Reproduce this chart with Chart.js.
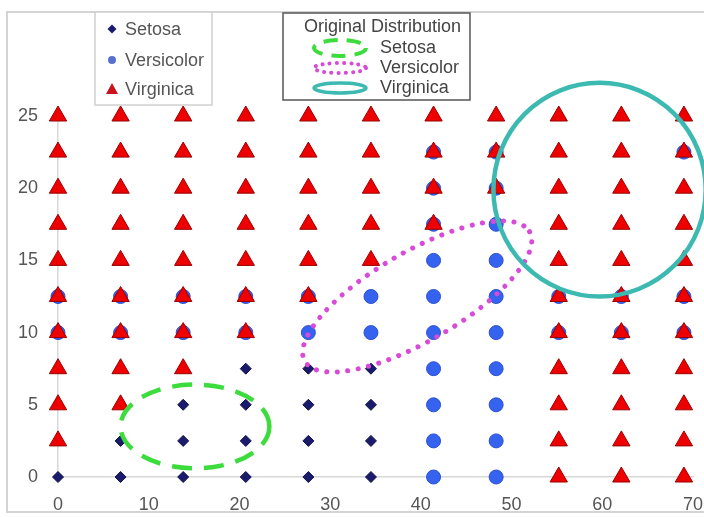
<!DOCTYPE html>
<html>
<head>
<meta charset="utf-8">
<script src="https://cdn.jsdelivr.net/npm/chart.js@4"></script>
<style>
  body { margin: 0; background: #fff; }
  #wrap { width: 704px; height: 517px; }
</style>
</head>
<body>
<div id="wrap"><canvas id="irisChart" width="704" height="517"></canvas></div>
<script>
// grid of sample positions
const xValues = [0, 6.9, 13.8, 20.7, 27.6, 34.5, 41.4, 48.3, 55.2, 62.1, 69];
const yValues = [25, 22.5, 20, 17.5, 15, 12.5, 10, 7.5, 5, 2.5, 0]; // rows top to bottom

// S = Setosa, C = Versicolor, V = Virginica, B = Versicolor + Virginica
const classGrid = [
    'VVVVVVVVVVV', // 25
    'VVVVVVBBVVB', // 22.5
    'VVVVVVBBVVV', // 20
    'VVVVVVBCVVV', // 17.5
    'VVVVVVCCVVV', // 15
    'BBBBBCCCBBB', // 12.5
    'BBBBCCCCBBB', // 10
    'VVVSSSCCVVV', // 7.5
    'VVSSSSCCVVV', // 5
    'VSSSSSCCVVV', // 2.5
    'SSSSSSCCVVV'  // 0
];

const speciesNames = ['Setosa', 'Versicolor', 'Virginica'];
const xTicks = [0, 10, 20, 30, 40, 50, 60, 70];
const yTicks = [0, 5, 10, 15, 20, 25];

// original distributions (ellipses in data units, angle in degrees)
const regionTitle = 'Original Distribution';
const regionNames = ['Setosa', 'Versicolor', 'Virginica'];
const regionCenterX = [15.1, 39.6, 59.7];
const regionCenterY = [3.5, 12.5, 19.9];
const regionRadiusX = [8.2, 14.3, 11.7];
const regionRadiusY = [2.9, 3.1, 7.4];
const regionAngle = [0, -30, 0];

// collect points per species from the grid
const pointsFor = (codes) => {
    let pts = [];
    classGrid.forEach((row, r) => {
        row.split('').forEach((c, i) => {
            if (codes.includes(c)) pts.push({ x: xValues[i], y: yValues[r] });
        });
    });
    return pts;
};

const setosaPts = pointsFor('S');
const versicolorPts = pointsFor('CB');
const virginicaPts = pointsFor('VB');

const FONT = '"Liberation Sans", Arial, sans-serif';
const TEXT = '#555';

const regionStyles = [
    { color: '#3ddc3d', dash: [20, 12], width: 4.5, cap: 'butt' },
    { color: '#d84ad8', dash: [0.1, 10.5], width: 5, cap: 'round' },
    { color: '#3cb9b1', dash: [], width: 4.5, cap: 'butt' }
];

const strokeEllipse = (ctx, cx, cy, rx, ry, rot, st) => {
    ctx.save();
    ctx.beginPath();
    ctx.ellipse(cx, cy, rx, ry, rot, 0, Math.PI * 2);
    ctx.strokeStyle = st.color;
    ctx.lineWidth = st.width;
    ctx.lineCap = st.cap;
    ctx.setLineDash(st.dash);
    ctx.stroke();
    ctx.restore();
};

// ellipses over the points
const regionPlugin = {
    id: 'regions',
    afterDatasetsDraw(chart) {
        const { ctx, scales: { x, y } } = chart;
        regionNames.forEach((name, i) => {
            const cx = x.getPixelForValue(regionCenterX[i]);
            const cy = y.getPixelForValue(regionCenterY[i]);
            const rx = Math.abs(x.getPixelForValue(regionCenterX[i] + regionRadiusX[i]) - cx);
            const ry = Math.abs(y.getPixelForValue(regionCenterY[i] + regionRadiusY[i]) - cy);
            strokeEllipse(ctx, cx, cy, rx, ry, regionAngle[i] * Math.PI / 180, regionStyles[i]);
        });
    }
};

// frame + both legend boxes
const legendPlugin = {
    id: 'legends',
    afterDraw(chart) {
        const ctx = chart.ctx;
        ctx.save();
        ctx.strokeStyle = '#d4d4d4';
        ctx.lineWidth = 2;
        ctx.strokeRect(7, 12, 700, 500);

        // species legend
        ctx.fillStyle = '#fff';
        ctx.fillRect(95, 12, 117, 93);
        ctx.strokeStyle = '#cfcfcf';
        ctx.lineWidth = 1.5;
        ctx.strokeRect(95, 12, 117, 93);
        ctx.font = '18px ' + FONT;
        ctx.textBaseline = 'middle';
        ctx.fillStyle = TEXT;
        const rowsY = [29, 60, 89];
        speciesNames.forEach((n, i) => ctx.fillText(n, 125, rowsY[i] + 1));
        const mx = 112;
        ctx.fillStyle = '#1b1b6e';
        ctx.beginPath();
        ctx.moveTo(mx - 4.5, rowsY[0]); ctx.lineTo(mx, rowsY[0] - 4.5);
        ctx.lineTo(mx + 4.5, rowsY[0]); ctx.lineTo(mx, rowsY[0] + 4.5);
        ctx.fill();
        ctx.fillStyle = '#5670d0';
        ctx.beginPath();
        ctx.arc(mx, rowsY[1], 4, 0, Math.PI * 2);
        ctx.fill();
        ctx.fillStyle = '#c8141e';
        ctx.beginPath();
        ctx.moveTo(mx, rowsY[2] - 6); ctx.lineTo(mx + 6, rowsY[2] + 5); ctx.lineTo(mx - 6, rowsY[2] + 5);
        ctx.fill();

        // distribution legend
        ctx.fillStyle = '#fff';
        ctx.fillRect(283, 13, 187, 87);
        ctx.strokeStyle = '#555';
        ctx.lineWidth = 1.5;
        ctx.strokeRect(283, 13, 187, 87);
        ctx.fillStyle = '#444';
        ctx.fillText(regionTitle, 304, 27);
        const ry = [48, 68, 88];
        regionNames.forEach((n, i) => {
            ctx.fillStyle = '#444';
            ctx.fillText(n, 380, ry[i]);
            const st = Object.assign({}, regionStyles[i]);
            if (i === 0) st.dash = [14, 9];
            if (i === 1) st.dash = [0.1, 7];
            st.width = i === 2 ? 3.5 : 4;
            strokeEllipse(ctx, 340, ry[i], 26, i === 0 ? 8 : 5, 0, st);
        });
        ctx.restore();
    }
};

new Chart(document.getElementById('irisChart'), {
    type: 'scatter',
    data: {
        datasets: [
            {
                label: 'Setosa', data: setosaPts, order: 2,
                pointStyle: 'rectRot', pointRadius: 5.5,
                backgroundColor: '#1b1b6e', borderColor: '#0f0f48', borderWidth: 1
            },
            {
                label: 'Versicolor', data: versicolorPts, order: 1,
                pointStyle: 'circle', pointRadius: 7,
                backgroundColor: '#3562ee', borderColor: '#2b50d2', borderWidth: 1
            },
            {
                label: 'Virginica', data: virginicaPts, order: 0,
                pointStyle: 'triangle', pointRadius: 10,
                backgroundColor: '#ee0000', borderColor: '#9a0000', borderWidth: 1
            }
        ]
    },
    options: {
        responsive: false,
        animation: false,
        clip: false,
        layout: { padding: { top: 116, right: 10, left: 0, bottom: 0 } },
        plugins: { legend: { display: false }, tooltip: { enabled: false } },
        scales: {
            x: {
                type: 'linear', min: 0, max: 70,
                afterBuildTicks: (s) => { s.ticks = xTicks.map(v => ({ value: v })); },
                afterFit: (s) => { s.height = 40; s.paddingRight = 0; s.paddingLeft = 0; },
                grid: { display: false },
                border: { color: '#d8d8d8', width: 1.5 },
                ticks: { color: TEXT, font: { family: FONT, size: 18 }, padding: 9, maxRotation: 0 }
            },
            y: {
                type: 'linear', min: 0, max: 25,
                afterBuildTicks: (s) => { s.ticks = yTicks.map(v => ({ value: v })); },
                afterFit: (s) => { s.width = 58; },
                grid: { display: false },
                border: { color: '#d8d8d8', width: 1.5 },
                ticks: { color: TEXT, font: { family: FONT, size: 18 }, padding: 12 }
            }
        }
    },
    plugins: [regionPlugin, legendPlugin]
});
</script>
</body>
</html>
